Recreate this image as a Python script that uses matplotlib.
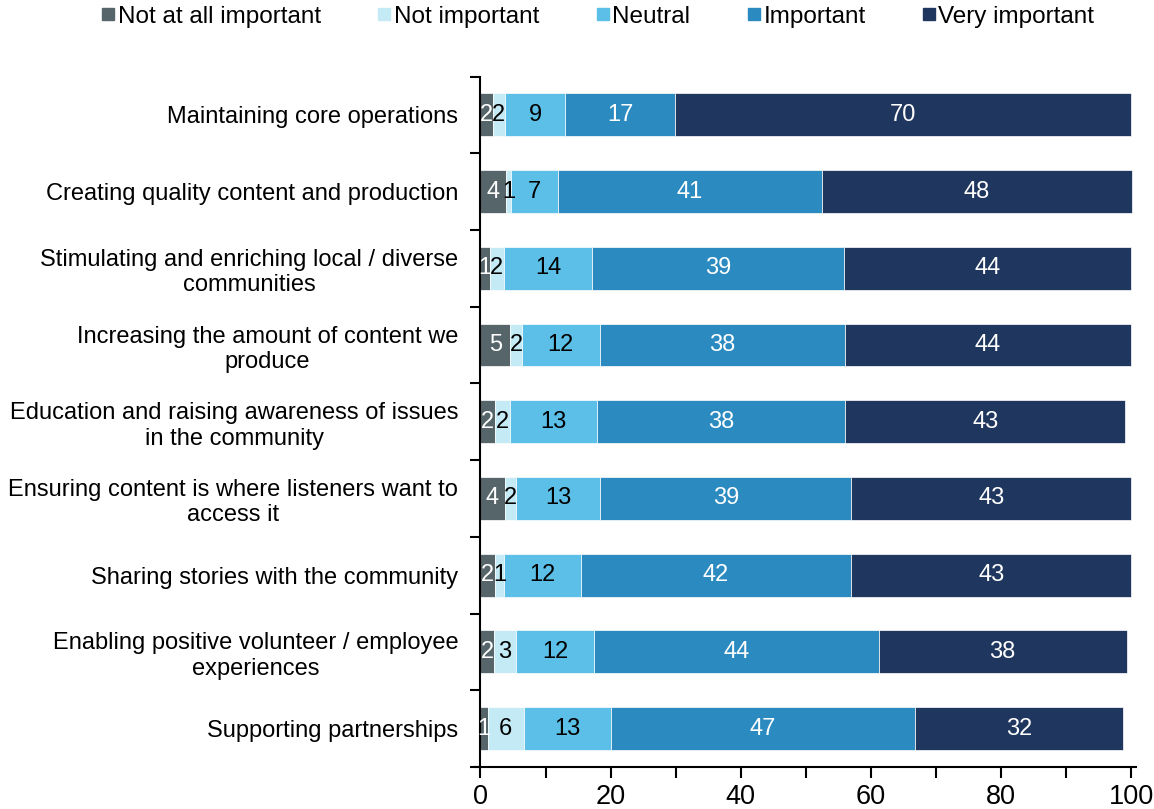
import matplotlib
matplotlib.use("Agg")
import matplotlib.pyplot as plt
from matplotlib.lines import Line2D
import numpy as np

plt.rcParams['font.family'] = ['Liberation Sans', 'DejaVu Sans']

categories = ["Maintaining core operations",
              "Creating quality content and production",
              "Stimulating and enriching local / diverse\ncommunities",
              "Increasing the amount of content we\nproduce",
              "Education and raising awareness of issues\nin the community",
              "Ensuring content is where listeners want to\naccess it",
              "Sharing stories with the community",
              "Enabling positive volunteer / employee\nexperiences",
              "Supporting partnerships"]
levels = ["Not at all important", "Not important", "Neutral", "Important", "Very important"]

not_at_all = [1.85, 3.9, 1.4, 4.6, 2.2, 3.7, 2.2, 2.0, 1.1]
not_important = [1.9, 0.8, 2.2, 1.8, 2.3, 1.8, 1.4, 3.4, 5.6]
neutral = [9.3, 7.2, 13.6, 11.9, 13.4, 12.9, 11.8, 12.1, 13.4]
important = [16.8, 40.6, 38.6, 37.7, 38.2, 38.6, 41.6, 43.7, 46.7]
very_important = [70.2, 47.6, 44.2, 44.0, 43.0, 43.0, 43.0, 38.1, 32.0]

colors = ["#56656a", "#c4eaf6", "#5bbfe7", "#2b8abf", "#1f365e"]
text_colors = ["white", "black", "black", "white", "white"]

fig = plt.figure(figsize=(11.54, 8.09), dpi=100)
ax = fig.add_axes([0.4113, 0.052, 0.5728, 0.8534])

y = np.arange(len(categories))
left = np.zeros(len(categories))
series = [not_at_all, not_important, neutral, important, very_important]
for vals, c, tc in zip(series, colors, text_colors):
    vals = np.array(vals)
    ax.barh(y, vals, left=left, height=0.56, color=c, edgecolor="white", linewidth=0.5)
    for yi, l, v in zip(y, left, vals):
        ax.text(l + v / 2, yi, f"{v:.0f}", ha="center", va="center", fontsize=17, color=tc)
    left = left + vals

ax.set_xlim(-0.9, 100.7)
ax.set_ylim(8.5, -0.5)
ax.spines['left'].set_position(('data', 0))
ax.spines['top'].set_visible(False)
ax.spines['right'].set_visible(False)
ax.spines['left'].set_linewidth(1.5)
ax.spines['bottom'].set_linewidth(1.5)

ax.set_yticks(y)
ax.set_yticklabels(categories, multialignment="center")
ax.set_yticks(np.arange(-0.5, 9, 1), minor=True)
ax.tick_params(axis="y", which="major", length=0, pad=16, labelsize=17)
ax.tick_params(axis="y", which="minor", length=7, width=1.5, direction="out")

ax.set_xticks(np.arange(0, 101, 20))
ax.set_xticks(np.arange(0, 101, 10), minor=True)
ax.tick_params(axis="x", which="both", length=8, width=1.5, direction="out", labelsize=19.5, pad=4)

handles = [Line2D([], [], marker="s", linestyle="none", markersize=9, color=c) for c in colors]
fig.legend(handles, levels, loc="center", bbox_to_anchor=(0.518, 0.979), ncol=5, frameon=False,
           fontsize=17.5, handlelength=0.6, handletextpad=0.1, columnspacing=2.3)

fig.savefig("out.png", dpi=100)
